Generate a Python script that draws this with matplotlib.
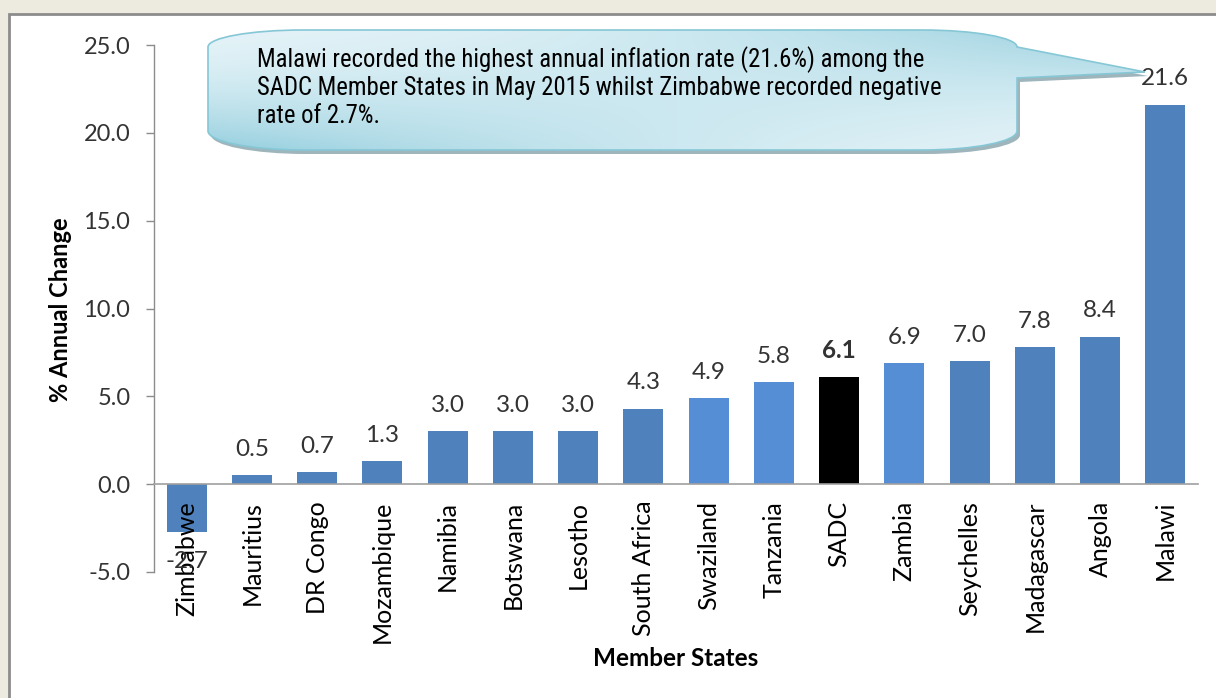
import numpy as np
import matplotlib
matplotlib.use("Agg")
import matplotlib.pyplot as plt
from matplotlib.path import Path
from matplotlib.patches import PathPatch, Rectangle
from matplotlib import font_manager as fm

# ---------------- data ----------------
countries = ["Zimbabwe", "Mauritius", "DR Congo", "Mozambique", "Namibia", "Botswana",
             "Lesotho", "South Africa", "Swaziland", "Tanzania", "SADC", "Zambia",
             "Seychelles", "Madagascar", "Angola", "Malawi"]
values = [-2.7, 0.5, 0.7, 1.3, 3.0, 3.0, 3.0, 4.3, 4.9, 5.8, 6.1, 6.9, 7.0, 7.8, 8.4, 21.6]
bar_colors = ["#4F81BD", "#4F81BD", "#4F81BD", "#4F81BD", "#4F81BD", "#4F81BD",
              "#4F81BD", "#4F81BD", "#558ED5", "#558ED5", "#000000", "#558ED5",
              "#4F81BD", "#4F81BD", "#4F81BD", "#4F81BD"]
yticks = [-5.0, 0.0, 5.0, 10.0, 15.0, 20.0, 25.0]
ylabel = "% Annual Change"
xlabel = "Member States"
callout_lines = ["Malawi recorded the highest annual inflation rate (21.6%) among the",
                 "SADC Member States in May 2015 whilst Zimbabwe recorded negative",
                 "rate of 2.7%."]

available = {f.name for f in fm.fontManager.ttflist}
base_font = "Lato" if "Lato" in available else "DejaVu Sans"
narrow_font = "Liberation Sans"
for cand in ["Liberation Sans Narrow", "Arimo Narrow", "Roboto Condensed",
             "Roboto Condensed Light", "Noto Sans Condensed", "Open Sans Condensed"]:
    if cand in available:
        narrow_font = cand
        break

W, H = 1216, 698
fig = plt.figure(figsize=(W / 100, H / 100), dpi=100)
fig.patch.set_facecolor("#EDEAE0")

# white panel with grey border
panel = Rectangle((9 / W, -0.1), 1.2, (H - 14) / H + 0.1, transform=fig.transFigure,
                  facecolor="white", edgecolor="#8C8C8C", linewidth=2.0, zorder=-5)
fig.patches.append(panel)

ax = fig.add_axes([154 / W, 1 - 572 / H, (1198 - 154) / W, (572 - 45) / H])
ax.set_facecolor("none")
x = np.arange(len(countries))
bars = ax.bar(x, values, width=0.61, color=bar_colors, edgecolor="none", zorder=1)

ax.set_xlim(-0.5, len(countries) - 0.5)
ax.set_ylim(-5, 25)
ax.set_yticks(yticks)
ax.set_yticklabels([f"{t:.1f}" for t in yticks], fontsize=17, family=base_font, color="#333333")
ax.tick_params(axis="y", length=6, width=1, color="#8C8C8C", pad=11)

for s in ["top", "right"]:
    ax.spines[s].set_visible(False)
ax.spines["left"].set_color("#8C8C8C")
ax.spines["left"].set_linewidth(1.0)
ax.spines["bottom"].set_position(("data", 0))
ax.spines["bottom"].set_color("#A0A0A0")
ax.spines["bottom"].set_linewidth(1.2)
ax.set_xticks(x)
ax.set_xticklabels(countries, rotation=90, fontsize=18, family=base_font, color="black",
                   va="top", ha="center")
ax.tick_params(axis="x", length=0, pad=12)
ax.xaxis.set_zorder(2.6)

# value labels
for xi, v in zip(x, values):
    bold = "bold" if countries[xi] == "SADC" else "normal"
    if v >= 0:
        ax.annotate(f"{v:.1f}", (xi, v), xytext=(0, 11), textcoords="offset points",
                    ha="center", va="bottom", fontsize=17.5, family=base_font,
                    color="#333333", fontweight=bold, zorder=3)
    else:
        ax.annotate(f"{v:.1f}", (xi, v), xytext=(0, -14), textcoords="offset points",
                    ha="center", va="top", fontsize=17.5, family=base_font,
                    color="#333333", fontweight=bold, zorder=3)

fig.text(60 / W, 1 - 310 / H, ylabel, rotation=90, ha="center", va="center",
         fontsize=17, fontweight="bold", family=base_font)
fig.text(676 / W, 1 - 658 / H, xlabel, ha="center", va="center", fontsize=17.5,
         fontweight="bold", family=base_font)

# ---------------- callout ----------------
ov = fig.add_axes([0, 0, 1, 1], zorder=5)
ov.set_xlim(0, W)
ov.set_ylim(H, 0)
ov.axis("off")
ov.patch.set_alpha(0)

L, R, T, B = 208, 1017, 30, 150
rx, ryt, ryb = 95, 17, 19
k = 0.5523
tip = (1145, 72)
verts = [
    (L, T + ryt),
    (L, T + ryt - k * ryt), (L + rx - k * rx, T), (L + rx, T),
    (R - rx, T),
    (R - rx + k * rx, T), (R, T + ryt - k * ryt), (R, T + ryt),
    tip,
    (R, 78),
    (R, B - ryb),
    (R, B - ryb + k * ryb), (R - rx + k * rx, B), (R - rx, B),
    (L + rx, B),
    (L + rx - k * rx, B), (L, B - ryb + k * ryb), (L, B - ryb),
    (L, T + ryt),
]
codes = [Path.MOVETO,
         Path.CURVE4, Path.CURVE4, Path.CURVE4,
         Path.LINETO,
         Path.CURVE4, Path.CURVE4, Path.CURVE4,
         Path.LINETO,
         Path.LINETO,
         Path.LINETO,
         Path.CURVE4, Path.CURVE4, Path.CURVE4,
         Path.LINETO,
         Path.CURVE4, Path.CURVE4, Path.CURVE4,
         Path.CLOSEPOLY]
path = Path(verts, codes)
shadow = PathPatch(path.transformed(matplotlib.transforms.Affine2D().translate(3, 4)),
                   facecolor="#7F9CA6", edgecolor="none", alpha=0.75, zorder=1)
ov.add_patch(shadow)
patch = PathPatch(path, facecolor="none", edgecolor="#86C7D6", linewidth=1.2, zorder=3)
ov.add_patch(patch)

# gradient fill
gx = np.linspace(0, 1, 300)
gy = np.linspace(0, 1, 60)
U, V = np.meshgrid(gx, gy)
d = ((1 - U) * V + U * (1 - V))
d = np.clip(d, 0, 1) ** 1.8
c_light = np.array([0.89, 0.95, 0.97])
c_dark = np.array([0.58, 0.81, 0.87])
img = c_light[None, None, :] * (1 - d[..., None]) + c_dark[None, None, :] * d[..., None]
im = ov.imshow(img, extent=(L, tip[0], B, T), origin="upper", aspect="auto", zorder=2,
               interpolation="bilinear")
clip = PathPatch(path, facecolor="none", edgecolor="none", transform=ov.transData)
ov.add_patch(clip)
im.set_clip_path(clip)
ov.set_xlim(0, W)
ov.set_ylim(H, 0)

texts = []
for i, line in enumerate(callout_lines):
    texts.append(ov.text(257, 67 + 28 * i, line, ha="left", va="baseline", fontsize=16,
                         family=narrow_font, color="black", zorder=4))
# scale the callout font so that the second line spans the same width as in the reference
fig.canvas.draw()
renderer = fig.canvas.get_renderer()
wpx = texts[1].get_window_extent(renderer).width
size = 16 * 688.0 / wpx
size = min(size, 21)
for t in texts:
    t.set_fontsize(size)

fig.savefig("out.png", dpi=100, facecolor=fig.get_facecolor())
